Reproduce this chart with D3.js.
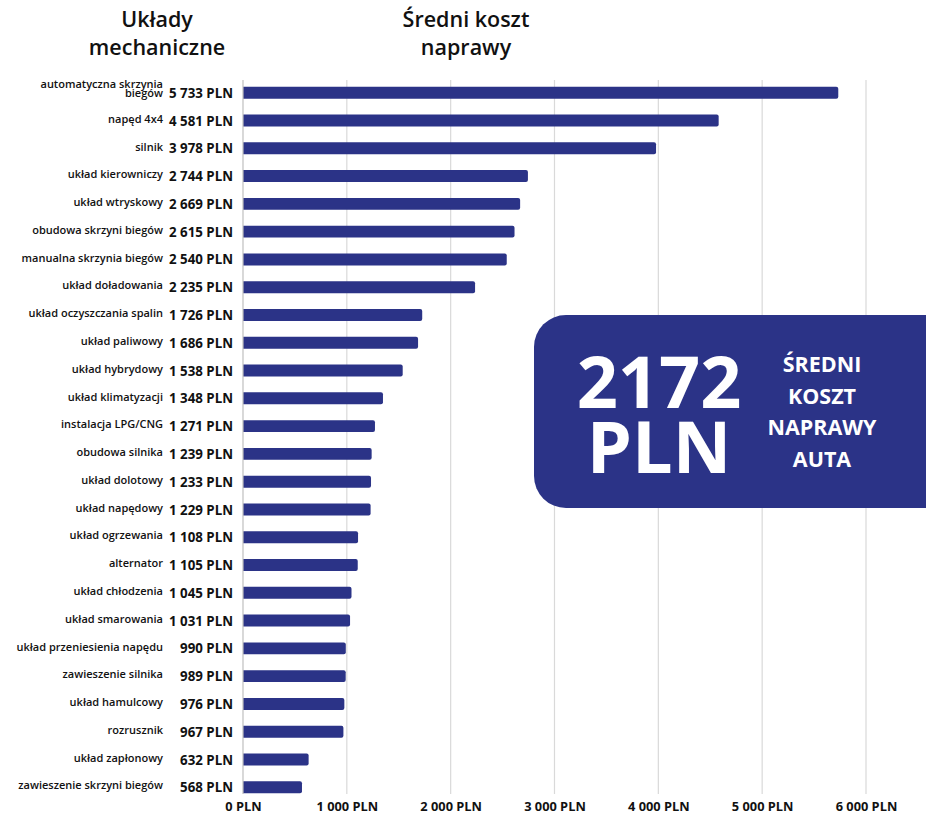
<!DOCTYPE html>
<html>
<head>
<meta charset="utf-8">
<script src="https://cdn.jsdelivr.net/npm/d3@7"></script>
<style>
  body { margin: 0; background: #fff; }
  text { font-family: "Open Sans", "Noto Sans", sans-serif; }
</style>
</head>
<body>
<div id="chart"></div>
<script>
// Chart data
var categories = [
    "automatyczna skrzynia biegów", "napęd 4x4", "silnik", "układ kierowniczy",
    "układ wtryskowy", "obudowa skrzyni biegów", "manualna skrzynia biegów",
    "układ doładowania", "układ oczyszczania spalin", "układ paliwowy",
    "układ hybrydowy", "układ klimatyzacji", "instalacja LPG/CNG", "obudowa silnika",
    "układ dolotowy", "układ napędowy", "układ ogrzewania", "alternator",
    "układ chłodzenia", "układ smarowania", "układ przeniesienia napędu",
    "zawieszenie silnika", "układ hamulcowy", "rozrusznik", "układ zapłonowy",
    "zawieszenie skrzyni biegów"
];
var costs = [5733, 4581, 3978, 2744, 2669, 2615, 2540, 2235, 1726, 1686, 1538, 1348,
    1271, 1239, 1233, 1229, 1108, 1105, 1045, 1031, 990, 989, 976, 967, 632, 568];
var xTicks = [0, 1000, 2000, 3000, 4000, 5000, 6000];
var averageCost = 2172;

var svgWidth = 926;
var svgHeight = 816;
var navy = "#2b3387";

var svg = d3.select("#chart")
    .append("svg")
    .attr("width", svgWidth)
    .attr("height", svgHeight);

var data = categories.map(function(c, i) {
    return { name: c, cost: costs[i] };
});

// Scales
var xScale = d3.scaleLinear()
    .domain([0, 6000])
    .range([243, 866]);

var yScale = d3.scaleBand()
    .domain(categories)
    .range([79, 801])
    .paddingInner(0.57)
    .paddingOuter(0.28);

var fmt = function(v) {
    return d3.format(",")(v).replace(/,/g, " ") + " PLN";
};

// Gridlines
svg.append("g")
    .selectAll("line")
    .data(xTicks.slice(1))
    .enter()
    .append("line")
    .attr("x1", d => xScale(d))
    .attr("x2", d => xScale(d))
    .attr("y1", 80)
    .attr("y2", 794)
    .attr("stroke", "#d9d9d9")
    .attr("stroke-width", 1.2);

// X axis labels
var bottomAxis = d3.axisBottom(xScale)
    .tickValues(xTicks)
    .tickSize(0)
    .tickPadding(0)
    .tickFormat(fmt);

var xAxis = svg.append("g")
    .attr("transform", "translate(0, 799)")
    .call(bottomAxis);
xAxis.select(".domain").remove();
xAxis.selectAll("text")
    .attr("dy", "0.9em")
    .style("font-size", "12.8px")
    .style("font-weight", "bold")
    .attr("fill", "#111");

// Bars
svg.append("g")
    .selectAll("path")
    .data(data)
    .enter()
    .append("path")
    .attr("d", function(d) {
        var x0 = xScale(0), x1 = xScale(d.cost);
        var y0 = yScale(d.name), h = yScale.bandwidth(), r = 2;
        return "M" + x0 + "," + y0 + "H" + (x1 - r) +
            "Q" + x1 + "," + y0 + " " + x1 + "," + (y0 + r) +
            "V" + (y0 + h - r) +
            "Q" + x1 + "," + (y0 + h) + " " + (x1 - r) + "," + (y0 + h) +
            "H" + x0 + "Z";
    })
    .attr("fill", navy);

// Axis line
svg.append("line")
    .attr("x1", xScale(0))
    .attr("x2", xScale(0))
    .attr("y1", 80)
    .attr("y2", 794)
    .attr("stroke", "#bfbfbf")
    .attr("stroke-width", 1.2);

// Value labels
svg.append("g")
    .selectAll("text")
    .data(data)
    .enter()
    .append("text")
    .attr("x", 233)
    .attr("y", d => yScale(d.name) + yScale.bandwidth() / 2)
    .attr("dy", "0.38em")
    .attr("text-anchor", "end")
    .style("font-size", "13.3px")
    .style("font-weight", "bold")
    .attr("fill", "#111")
    .text(d => fmt(d.cost));

// Category labels
var catText = svg.append("g")
    .selectAll("text")
    .data(data)
    .enter()
    .append("text")
    .attr("x", 163)
    .attr("y", d => yScale(d.name) + yScale.bandwidth() / 2)
    .attr("text-anchor", "end")
    .style("font-size", "11px")
    .style("font-weight", 600)
    .attr("fill", "#111");

catText.each(function(d, i) {
    var t = d3.select(this);
    if (i === 0) {
        t.append("tspan").attr("x", 163).attr("dy", "-0.45em").text("automatyczna skrzynia");
        t.append("tspan").attr("x", 163).attr("dy", "0.85em").text("biegów");
    } else {
        t.attr("dy", "0.2em").text(d.name);
    }
});

// Titles
var titles = [
    { x: 157, lines: ["Układy", "mechaniczne"] },
    { x: 466, lines: ["Średni koszt", "naprawy"] }
];
titles.forEach(function(tt) {
    tt.lines.forEach(function(line, j) {
        svg.append("text")
            .attr("x", tt.x)
            .attr("y", 27 + j * 28)
            .attr("text-anchor", "middle")
            .style("font-size", "21.5px")
            .style("font-weight", 600)
            .attr("fill", "#111")
            .text(line);
    });
});

// Average box
svg.append("rect")
    .attr("x", 534)
    .attr("y", 315)
    .attr("width", 440)
    .attr("height", 193)
    .attr("rx", 32)
    .attr("fill", navy);

svg.append("text")
    .attr("x", 659)
    .attr("y", 408)
    .attr("text-anchor", "middle")
    .style("font-size", "72px")
    .style("font-weight", "bold")
    .attr("fill", "#fff")
    .text(averageCost);

svg.append("text")
    .attr("x", 659)
    .attr("y", 473)
    .attr("text-anchor", "middle")
    .style("font-size", "72px")
    .style("font-weight", "bold")
    .attr("fill", "#fff")
    .text("PLN");

["ŚREDNI", "KOSZT", "NAPRAWY", "AUTA"].forEach(function(line, j) {
    svg.append("text")
        .attr("x", 822)
        .attr("y", 372 + j * 31.5)
        .attr("text-anchor", "middle")
        .style("font-size", "21.5px")
        .style("font-weight", "bold")
        .attr("fill", "#fff")
        .text(line);
});
</script>
</body>
</html>
